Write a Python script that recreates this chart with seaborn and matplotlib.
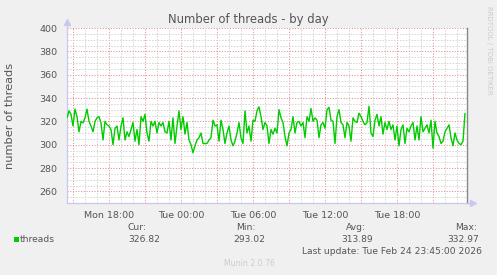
import numpy as np
import pandas as pd
import matplotlib
matplotlib.use("Agg")
import matplotlib.pyplot as plt
from matplotlib.patches import Rectangle
from matplotlib.ticker import MultipleLocator, FixedLocator
import seaborn as sns

# ---- data (10-minute steps) ----
seg_a = [323, 329, 326, 316, 330.5, 324, 311, 320, 318.6, 323, 330.5, 320, 316, 311, 320, 323, 324, 318.6, 304, 320, 317, 316, 313, 300, 314]
seg_b = [316, 304, 316, 323, 304, 311, 307, 313, 319, 303, 313, 300, 324, 320, 326, 310, 303, 320, 316, 320, 310, 319, 316, 319, 311]
seg_c = [310, 320, 304, 323, 301, 316, 329, 313, 324, 309, 319, 304, 300, 293.02, 299, 304, 306, 310, 301, 301, 301, 304, 306, 321, 316]
seg_d = [317, 303, 321, 313, 301, 310, 316, 304, 299, 303, 310, 319, 306, 301, 329, 310, 316, 303, 321, 320, 329, 332.5, 324, 313, 319]
seg_e = [316, 301, 313, 309, 314, 310, 330, 323, 319, 307, 299, 310, 313, 324, 310, 319, 320, 316, 319, 306, 324, 320, 331, 320, 323]
seg_f = [321, 306, 317, 319, 314, 330, 332, 321, 320, 301, 324, 330, 319, 317, 306, 319, 316, 303, 323, 320, 319, 327, 324, 320, 317]
seg_g = [319, 332.97, 310, 307, 321, 326, 316, 324, 309, 319, 313, 320, 313, 317, 304, 316, 299, 313, 317, 301, 314, 311, 316, 319, 304]
seg_h = [316, 304, 324, 311, 314, 317, 310, 321, 297, 320, 310, 307, 301, 303, 311, 314, 317, 306, 299, 310, 304, 301, 300, 303, 326.82]
threads = seg_a + seg_b + seg_c + seg_d + seg_e + seg_f + seg_g + seg_h

start_hour = -9.5          # Mon 14:30 relative to Tue 00:00
step_hours = 1 / 6         # 10 minutes
x_min, x_max = -9.5, 23.8333
y_min, y_max = 250, 400

tick_hours = [-6, 0, 6, 12, 18]
tick_labels = ["Mon 18:00", "Tue 00:00", "Tue 06:00", "Tue 12:00", "Tue 18:00"]
y_ticks = [260, 280, 300, 320, 340, 360, 380, 400]

title = "Number of threads - by day"
y_label = "number of threads"
series_name = "threads"
stat_names = ["Cur:", "Min:", "Avg:", "Max:"]
stat_values = ["326.82", "293.02", "313.89", "332.97"]
last_update = "Last update: Tue Feb 24 23:45:00 2026"
watermark = "RRDTOOL / TOBI OETIKER"
footer = "Munin 2.0.76"

hours = start_hour + step_hours * np.arange(len(threads))
df = pd.DataFrame({"hour": hours, "threads": threads})

# ---- figure ----
sns.set_style("white")
plt.rcParams["font.family"] = ["DejaVu Sans"]

W, H = 497, 275
fig = plt.figure(figsize=(W / 100, H / 100), dpi=100, facecolor="#F0F0F0")
ax = fig.add_axes([67 / W, (H - 203) / H, 400 / W, 175 / H])
ax.set_facecolor("white")

sns.lineplot(data=df, x="hour", y="threads", ax=ax, color="#00CC00",
             linewidth=1.0, zorder=5)
ax.set_xlim(x_min, x_max)
ax.set_ylim(y_min, y_max)
ax.set_xlabel("")
ax.set_ylabel("")

# x: major every 3h (red grid), labels every 6h; minor every 1h
major_x = list(np.arange(-9, 24, 3))
ax.xaxis.set_major_locator(FixedLocator(major_x))
ax.set_xticklabels([tick_labels[tick_hours.index(h)] if h in tick_hours else "" for h in major_x])
ax.xaxis.set_minor_locator(MultipleLocator(1))
# y: major every 20, minor every 5
ax.yaxis.set_major_locator(FixedLocator(y_ticks + [250]))
ax.set_yticklabels([str(v) if v in y_ticks else "" for v in y_ticks + [250]])
ax.yaxis.set_minor_locator(MultipleLocator(5))

ax.grid(which="major", color="#E88C8C", linestyle=(0, (1, 1.6)), linewidth=0.75, zorder=1)
ax.grid(which="minor", color="#D4D4D4", linestyle=(0, (1.5, 1.5)), linewidth=0.7, zorder=0)
ax.set_axisbelow(True)

ax.tick_params(axis="both", which="major", length=3, width=0.8, color="#E88C8C",
               labelsize=6.8, labelcolor="#555555", pad=3)
ax.tick_params(axis="both", which="minor", length=2, width=0.8, color="#C8C8C8")
ax.tick_params(axis="y", which="major", pad=4)

ax.spines["top"].set_visible(False)
ax.spines["left"].set_color("#C8C8F0")
ax.spines["bottom"].set_color("#C8C8F0")
ax.spines["left"].set_linewidth(0.9)
ax.spines["bottom"].set_linewidth(0.9)
ax.spines["right"].set_color("#888888")
ax.spines["right"].set_linewidth(1.0)

# axis arrows
ax.plot([0, 0], [1.0, 1.03], transform=ax.transAxes, color="#C8C8F0", lw=0.9, clip_on=False)
ax.plot([0], [1.035], transform=ax.transAxes, marker="^", markersize=4,
        color="#C8C8F0", clip_on=False)
ax.plot([1.0, 1.012], [0, 0], transform=ax.transAxes, color="#C8C8F0", lw=0.9, clip_on=False)
ax.plot([1.015], [0], transform=ax.transAxes, marker=">", markersize=4,
        color="#C8C8F0", clip_on=False)

def fx(px):
    return px / W

def fy(py):
    return 1 - py / H

txt = "#555555"
fig.text(fx(248), fy(20), title, ha="center", va="center", fontsize=8.4, color=txt)
fig.text(fx(10), fy(116), y_label, ha="center", va="center", rotation=90,
         fontsize=8.2, color=txt)
fig.text(fx(489), fy(50), watermark, ha="center", va="center", rotation=270,
         fontsize=5, color="#CCCCCC")

# legend
fig.patches.append(Rectangle((fx(14), fy(242)), 5 / W, 5 / H, transform=fig.transFigure,
                             facecolor="#00CC00", edgecolor="none"))
fig.text(fx(20), fy(239.5), series_name, ha="left", va="center", fontsize=6.6, color=txt)
head_x = [128, 236, 346, 455]
val_x = [128, 233, 341, 447]
for name, val, hx, vx in zip(stat_names, stat_values, head_x, val_x):
    fig.text(fx(hx), fy(227.5), name, ha="left", va="center", fontsize=6.6, color=txt)
    fig.text(fx(vx), fy(239.5), val, ha="left", va="center", fontsize=6.6, color=txt)
fig.text(fx(482), fy(251.5), last_update, ha="right", va="center", fontsize=6.6, color=txt)
fig.text(fx(249), fy(263.5), footer, ha="center", va="center", fontsize=5.6, color="#CCCCCC")

fig.savefig("out.png", dpi=100, facecolor=fig.get_facecolor())
